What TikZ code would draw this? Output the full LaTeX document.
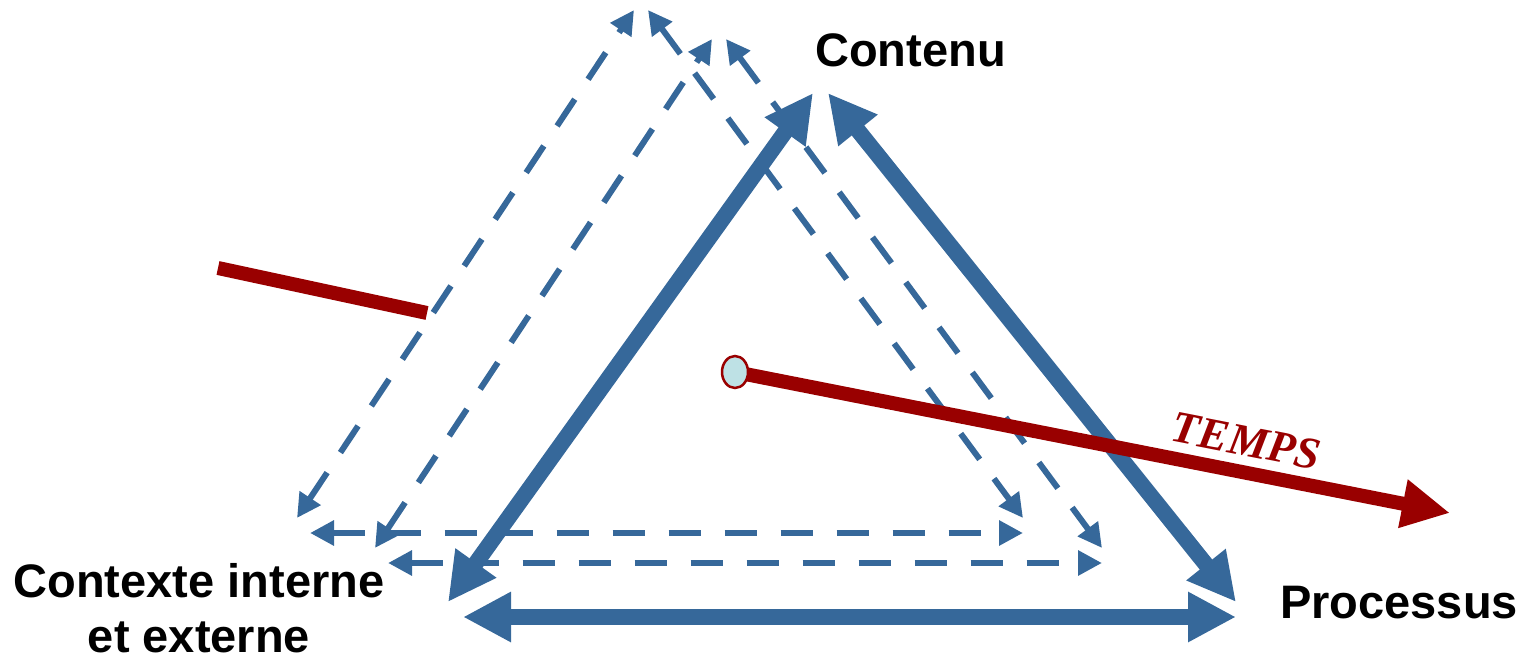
\documentclass[tikz,border=0pt]{standalone}
\usepackage{fontspec}
\setmainfont{Liberation Sans}
\newfontfamily\timesfont{Liberation Serif}
\usetikzlibrary{arrows.meta,shapes.geometric}
\definecolor{tblue}{RGB}{54,104,154}
\definecolor{tred}{RGB}{153,0,0}
\definecolor{tcyan}{RGB}{190,225,229}
\begin{document}
\begin{tikzpicture}[x=1pt,y=-1pt,
  bigarrow/.style={draw=tblue, line width=16pt,
    {Triangle[length=48pt,width=47pt]}-{Triangle[length=48pt,width=47pt]}},
  dasharrow/.style={draw=tblue, line width=6pt, dash pattern=on 32pt off 24pt,
    {Triangle[length=24pt,width=24pt]}-{Triangle[length=24pt,width=24pt]}},
  timeline/.style={draw=tred, line width=14pt},
  lbl/.style={font=\bfseries\fontsize{47}{55}\selectfont, inner sep=0pt},
  startdot/.style={ellipse, draw=tred, line width=2.5pt, fill=tcyan,
    minimum width=26pt, minimum height=32pt, inner sep=0pt}]
\useasboundingbox (0,0) rectangle (1533,663);

% corner points of the solid triangle
\coordinate (sA) at (813,93);
\coordinate (sB) at (828,93);
\coordinate (sL) at (448,602);
\coordinate (sR) at (1236,602);
\coordinate (bL) at (463,617);
\coordinate (bR) at (1236,617);

% outer dashed triangle
\coordinate (oA) at (634,10);
\coordinate (oB) at (648,10);
\coordinate (oL) at (297,518);
\coordinate (oR) at (1023,518);
\coordinate (obL) at (310,533);
\coordinate (obR) at (1023,533);

% inner dashed triangle
\coordinate (iA) at (712,39);
\coordinate (iB) at (726,39);
\coordinate (iL) at (375,548);
\coordinate (iR) at (1102,548);
\coordinate (ibL) at (388,563);
\coordinate (ibR) at (1102,563);

% time axis
\coordinate (p0) at (218,268);
\coordinate (p1) at (427,313);
\coordinate (t0) at (735,372);
\coordinate (t1) at (1450,513);

% earlier part of the time axis
\draw[timeline] (p0) -- (p1);

% earlier states (dashed)
\draw[dasharrow] (oL) -- (oA);
\draw[dasharrow] (oB) -- (oR);
\draw[dasharrow] (obL) -- (obR);
\draw[dasharrow] (iL) -- (iA);
\draw[dasharrow] (iB) -- (iR);
\draw[dasharrow] (ibL) -- (ibR);

% current state
\draw[bigarrow] (sL) -- (sA);
\draw[bigarrow] (sB) -- (sR);
\draw[bigarrow] (bL) -- (bR);

% time arrow
\draw[timeline, -{Triangle[length=48pt,width=46pt]}] (t0) -- (t1);
\node[startdot] (start) at (t0) {};
\node[font=\timesfont\bfseries\itshape\fontsize{45}{45}\selectfont, text=tred,
  rotate=-11.08, inner sep=0pt] (temps) at (1246,441) {TEMPS};

% labels
\node[lbl, anchor=base west] (contenu) at (815,67) {Contenu};
\node[lbl, anchor=base west] (processus) at (1280,618) {Processus};
\node[lbl, anchor=base, align=center] (contexte) at (199,652) {Contexte interne\\et externe};
\end{tikzpicture}
\end{document}
